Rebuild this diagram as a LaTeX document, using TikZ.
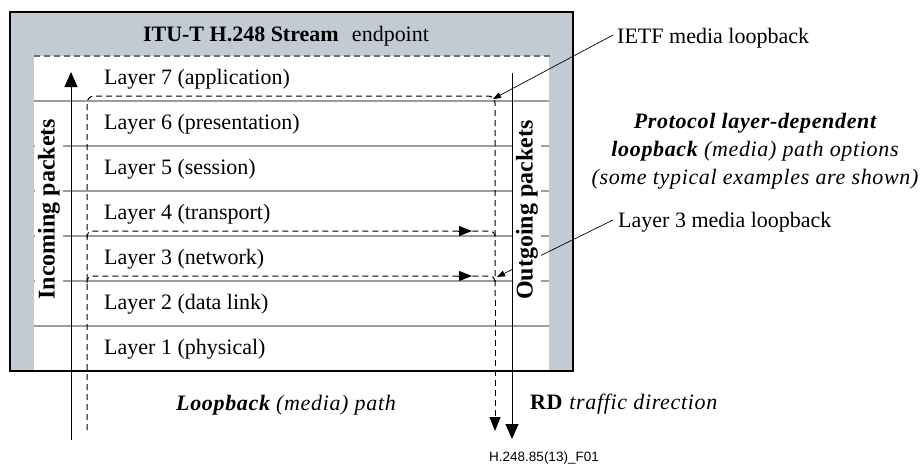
\documentclass[tikz,border=0pt]{standalone}
\usepackage{fontspec}
\setmainfont{Liberation Serif}
\newfontfamily\spacedfont[LetterSpace=3]{Liberation Serif}
\newfontfamily\footfont{Liberation Sans}
\usetikzlibrary{arrows.meta}
\definecolor{framegray}{HTML}{C2CAD4}
\definecolor{linegray}{HTML}{9C9C9C}
\definecolor{dashgray}{HTML}{707070}
\begin{document}
\begin{tikzpicture}[x=1pt,y=-1pt,
  txt/.style={font=\fontsize{22}{26}\selectfont, inner sep=0pt},
  layer/.style={txt, anchor=west},
  vlabel/.style={font=\fontsize{24}{28}\selectfont\bfseries, rotate=90, fill=white, inner sep=3pt},
  layerline/.style={linegray, line width=1.1pt},
  dashpath/.style={line width=1pt, dash pattern=on 6pt off 4pt},
  bigtip/.style={-{Triangle[length=15pt,width=13pt]}},
  midtip/.style={-{Triangle[length=14pt,width=11pt]}},
  looptip/.style={-{Triangle[length=13pt,width=10pt]}},
  labelarrow/.style={line width=0.7pt, -{Triangle[length=8pt,width=6pt]}}
]
\useasboundingbox (0,0) rectangle (922,467);
% frame
\fill[framegray] (10,12) rectangle (573,371);
\fill[white] (34,56) rectangle (549,371);
\draw[line width=2.5pt] (10,12) rectangle (573,371);
\foreach \y in {101,146,191,236,281,326} \draw[layerline] (34,\y) -- (549,\y);
\draw[dashgray, line width=1.1pt, dash pattern=on 6pt off 4pt] (34,56) -- (552,56);
% title
\node[txt] (title) at (286,36) {\textbf{ITU-T H.248 Stream}\hspace{0.6em}endpoint};
% layers
\node[layer] (l7) at (104,79) {Layer 7 (application)};
\node[layer] (l6) at (104,124) {Layer 6 (presentation)};
\node[layer] (l5) at (104,169) {Layer 5 (session)};
\node[layer] (l4) at (104,214) {Layer 4 (transport)};
\node[layer] (l3) at (104,259) {Layer 3 (network)};
\node[layer] (l2) at (104,304) {Layer 2 (data link)};
\node[layer] (l1) at (104,349) {Layer 1 (physical)};
% coordinates
\coordinate (incbot) at (71,440);
\coordinate (inctop) at (71,72);
\coordinate (outtop) at (512,73);
\coordinate (outbot) at (512,439);
\coordinate (lbstart) at (87,430);
\coordinate (lbtl) at (87,96);
\coordinate (lbtr) at (495,96);
\coordinate (lbend) at (495,431);
\coordinate (ietftip) at (493,99);
\coordinate (l3tip) at (497,277);
% solid packet arrows
\draw[line width=0.9pt, bigtip] (incbot) -- (inctop);
\draw[line width=0.9pt, bigtip] (outtop) -- (outbot);
% main loopback
\draw[dashpath, rounded corners=7pt] (lbstart) -- (lbtl) -- (lbtr) -- (495,300);
\draw[dashpath, midtip] (495,300) -- (lbend);
% layer 4 loopback
\draw[dashpath, rounded corners=5pt] (87,238) -- (87,231) -- (495,231) -- (495,238);
\draw[line width=1pt, looptip] (458,231) -- (472,231);
% layer 3 loopback
\draw[dashpath, rounded corners=5pt] (87,283) -- (87,276) -- (495,276) -- (495,283);
\draw[line width=1pt, looptip] (458,276) -- (472,276);
% right labels
\node[txt, anchor=west] (ietf) at (617,38) {IETF media loopback};
\node[txt, anchor=west] (l3lab) at (618,222) {Layer 3 media loopback};
\draw[labelarrow] ([xshift=-4pt,yshift=3pt]ietf.west) -- (ietftip);
\draw[labelarrow] ([xshift=-5pt,yshift=2pt]l3lab.west) -- (l3tip);
% vertical labels
\node[vlabel] (inc) at (49,209) {Incoming packets};
\node[vlabel] (out) at (527,210) {Outgoing packets};
% protocol text
\node[font=\fontsize{22}{28}\selectfont\spacedfont\itshape, align=center, inner sep=0pt] (proto) at (755,151)
  {\textbf{Protocol layer-dependent}\\ \textbf{loopback} (media) path options\\ (some typical examples are shown)};
% bottom labels
\node[font=\fontsize{22}{26}\selectfont\spacedfont\itshape, inner sep=0pt] (lbtext) at (286,405) {\textbf{Loopback} (media) path};
\node[font=\fontsize{22}{26}\selectfont\spacedfont, inner sep=0pt, anchor=west] (rdtext) at (530,404) {\textbf{RD} \textit{traffic direction}};
\node[font=\fontsize{13.5}{16}\selectfont\footfont, inner sep=0pt] (foot) at (544,458) {H.248.85(13)\_F01};
\end{tikzpicture}
\end{document}
